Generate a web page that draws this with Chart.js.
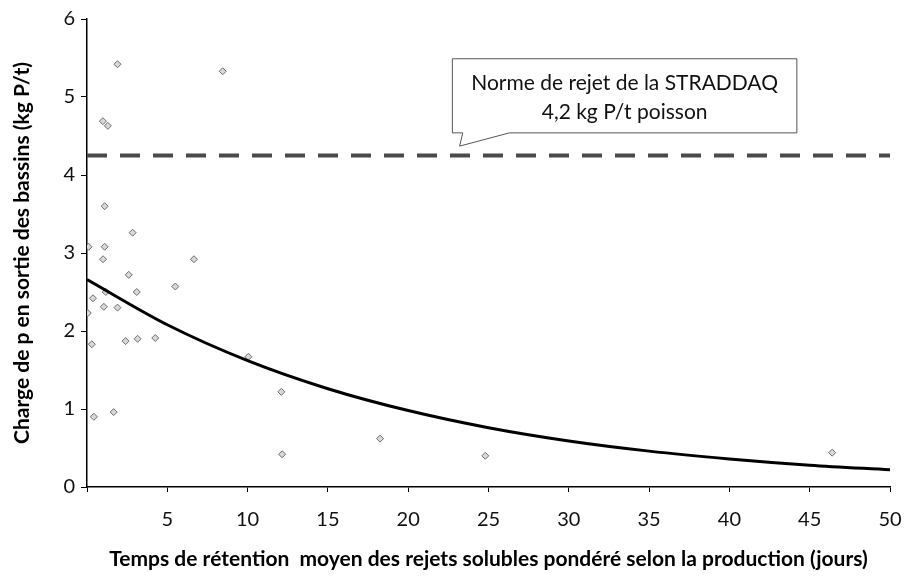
<!DOCTYPE html>
<html>
<head>
<meta charset="utf-8">
<script src="https://cdn.jsdelivr.net/npm/chart.js@4"></script>
<style>
  html, body { margin: 0; padding: 0; background: #fff; }
  #wrap { width: 908px; height: 576px; }
</style>
</head>
<body>
<div id="wrap"><canvas id="chart" width="908" height="576"></canvas></div>
<script>
// observed points: retention time (days) vs P load (kg P/t)
const retention = [1.9, 8.45, 0.99, 1.3, 1.1, 2.84, 0.1, 1.1, 1.0, 6.66, 2.6, 5.5, 3.1, 1.17, 0.37, 1.05, 1.9, 0.05, 0.3, 2.4, 3.15, 4.25, 10.05, 0.43, 1.66, 12.1, 12.15, 18.25, 24.8, 46.4];
const charge = [5.42, 5.33, 4.69, 4.63, 3.60, 3.26, 3.08, 3.08, 2.92, 2.92, 2.72, 2.57, 2.50, 2.50, 2.42, 2.31, 2.30, 2.23, 1.83, 1.87, 1.90, 1.91, 1.67, 0.90, 0.96, 1.22, 0.42, 0.62, 0.40, 0.44];

// exponential trend line
const trendX = [0, 5, 10, 15, 20, 25, 30, 35, 40, 45, 50];
const trendY = [2.66, 2.08, 1.62, 1.26, 0.98, 0.76, 0.59, 0.46, 0.36, 0.28, 0.22];

// STRADDAQ norm
const normValue = 4.25;
const xTickStep = 5;
const yTickStep = 1;

const calloutLines = ["Norme de rejet de la STRADDAQ", "4,2 kg P/t poisson"];

const FONT = "Lato, 'Open Sans', sans-serif";

const calloutPlugin = {
  id: "callout",
  afterDatasetsDraw(chart) {
    const { ctx, scales } = chart;
    const sx = scales.x, sy = scales.y;
    const left = sx.getPixelForValue(22.75);
    const right = sx.getPixelForValue(44.2);
    const top = sy.getPixelForValue(5.49);
    const bottom = sy.getPixelForValue(4.54);
    const w1 = sx.getPixelForValue(23.4);
    const w2 = sx.getPixelForValue(26.3);
    const tipX = sx.getPixelForValue(23.2);
    const tipY = sy.getPixelForValue(4.37);

    ctx.save();
    ctx.beginPath();
    ctx.moveTo(left, top);
    ctx.lineTo(right, top);
    ctx.lineTo(right, bottom);
    ctx.lineTo(w2, bottom);
    ctx.lineTo(tipX, tipY);
    ctx.lineTo(w1, bottom);
    ctx.lineTo(left, bottom);
    ctx.closePath();
    ctx.fillStyle = "#fff";
    ctx.fill();
    ctx.strokeStyle = "#555";
    ctx.lineWidth = 1;
    ctx.stroke();

    ctx.fillStyle = "#111";
    ctx.font = "21px " + FONT;
    ctx.textAlign = "center";
    ctx.textBaseline = "middle";
    const cx = (left + right) / 2;
    ctx.fillText(calloutLines[0], cx, sy.getPixelForValue(5.18));
    ctx.fillText(calloutLines[1], cx, sy.getPixelForValue(4.81));
    ctx.restore();
  }
};

const points = retention.map((v, i) => ({ x: v, y: charge[i] }));
const trend = trendX.map((v, i) => ({ x: v, y: trendY[i] }));
const norm = [{ x: 0, y: normValue }, { x: trendX[trendX.length - 1], y: normValue }];

new Chart(document.getElementById("chart"), {
  type: "scatter",
  data: {
    datasets: [
      {
        label: "Norme",
        data: norm,
        showLine: true,
        borderColor: "#4a4a4a",
        borderWidth: 4,
        borderDash: [20, 13],
        pointRadius: 0,
        fill: false
      },
      {
        label: "Tendance",
        data: trend,
        showLine: true,
        borderColor: "#000",
        borderWidth: 3,
        cubicInterpolationMode: "monotone",
        pointRadius: 0,
        fill: false
      },
      {
        label: "Charge",
        data: points,
        pointStyle: "rectRot",
        pointRadius: 3.5,
        pointBorderWidth: 1,
        pointBorderColor: "#6d6d6d",
        pointBackgroundColor: "#d8d8d8",
        showLine: false
      }
    ]
  },
  options: {
    responsive: false,
    animation: false,
    layout: { padding: { top: 19, right: 0, left: 0, bottom: 0 } },
    plugins: {
      legend: { display: false },
      tooltip: { enabled: false }
    },
    scales: {
      x: {
        type: "linear",
        min: 0,
        max: 50,
        afterFit(scale) {
          scale.height = 89;
          scale.paddingRight = 18;
        },
        border: { color: "#000", width: 1.5 },
        grid: { drawOnChartArea: false, drawTicks: true, tickLength: 5, color: "#000" },
        ticks: {
          stepSize: xTickStep,
          color: "#111",
          font: { family: FONT, size: 20 },
          padding: 16,
          maxRotation: 0,
          callback: (v) => (v === 0 ? "" : v)
        },
        title: {
          display: true,
          text: "Temps de rétention  moyen des rejets solubles pondéré selon la production (jours)",
          color: "#000",
          font: { family: FONT, size: 21, weight: "bold" },
          padding: { top: 0, bottom: 4 }
        }
      },
      y: {
        min: 0,
        max: 6,
        afterFit(scale) { scale.width = 87; },
        border: { color: "#000", width: 1.5 },
        grid: { drawOnChartArea: false, drawTicks: true, tickLength: 6, color: "#000" },
        ticks: {
          stepSize: yTickStep,
          color: "#111",
          font: { family: FONT, size: 20 },
          padding: 6
        },
        title: {
          display: true,
          text: "Charge de p en sortie des bassins (kg P/t)",
          color: "#000",
          font: { family: FONT, size: 21, weight: "bold" },
          padding: { top: 10, bottom: 0 }
        }
      }
    }
  },
  plugins: [calloutPlugin]
});
</script>
</body>
</html>
